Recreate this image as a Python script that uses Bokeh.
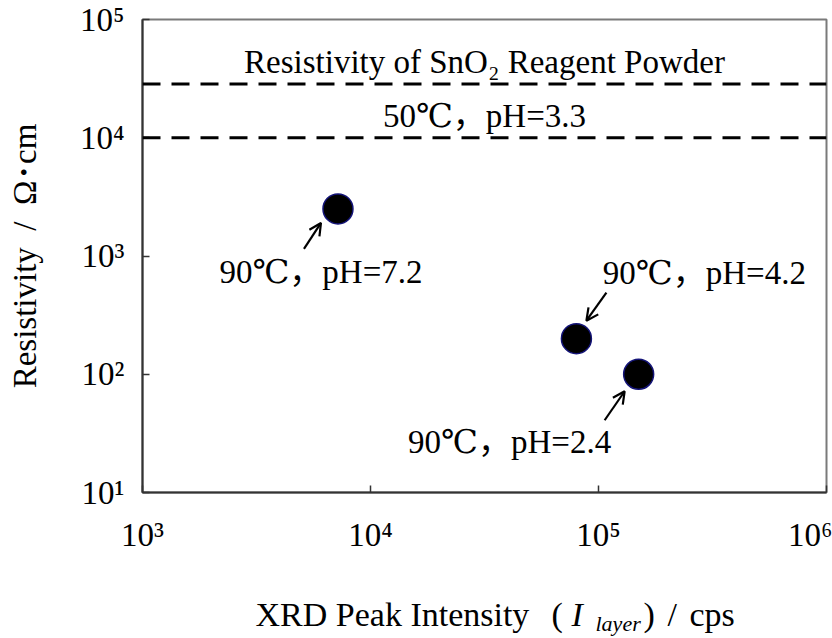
import math
from bokeh.plotting import figure
from bokeh.layouts import column
from bokeh.models import Range1d, FixedTicker, Span, Label, Arrow, OpenHead
from bokeh.embed import file_html
from bokeh.resources import INLINE

# ---------------- data ----------------
intensity = [7200, 80000, 150000]          # XRD peak intensity (cps)
resistivity = [2500, 200, 100]             # resistivity (ohm cm)
point_labels = ["90℃，pH=7.2", "90℃，pH=4.2", "90℃，pH=2.4"]
ref_levels = [28500, 10000]
ref_labels = ["Resistivity of SnO₂ Reagent Powder", "50℃，pH=3.3"]
x_ticks = [1e3, 1e4, 1e5, 1e6]
x_tick_labels = ["10³", "10⁴", "10⁵", "10⁶"]
y_ticks = [1e1, 1e2, 1e3, 1e4, 1e5]
y_tick_labels = ["10¹", "10²", "10³", "10⁴", "10⁵"]
x_lim = (1e3, 1e6)
y_lim = (1e1, 1e5)
y_title = "Resistivity\u2002/\u2002Ω･cm"
x_title_parts = ["XRD Peak Intensity", "(", "I", "layer", ")", "/", "cps"]

# ---------------- layout / style ----------------
W = 832
TITLE_H = 60
H = 638 - TITLE_H
LEFT, RIGHT, TOP, BOTTOM = 142, 6, 19, 86
FW, FH = W - LEFT - RIGHT, H - TOP - BOTTOM
FONT = "Liberation Serif, DejaVu Serif, Noto Sans CJK JP"
FS = "33px"

p = figure(width=W, height=H, x_axis_type="log", y_axis_type="log",
           x_range=Range1d(*x_lim), y_range=Range1d(*y_lim),
           output_backend="svg", toolbar_location=None,
           min_border_left=LEFT, min_border_right=RIGHT,
           min_border_top=TOP, min_border_bottom=BOTTOM)
p.background_fill_color = "white"
p.border_fill_color = "white"
p.grid.visible = False
p.outline_line_color = "#7a7a7a"
p.outline_line_width = 2

xdec = FW / (math.log10(x_lim[1]) - math.log10(x_lim[0]))
ydec = FH / (math.log10(y_lim[1]) - math.log10(y_lim[0]))


def shift(x, y, dx, dy):
    """move a data point by dx, dy pixels on the log-log frame"""
    return x * 10 ** (dx / xdec), y * 10 ** (dy / ydec)


for ax, ticks, labels, standoff in ((p.xaxis[0], x_ticks, x_tick_labels, 24),
                                     (p.yaxis[0], y_ticks, y_tick_labels, 18)):
    ax.ticker = FixedTicker(ticks=ticks, minor_ticks=[])
    ax.major_label_overrides = {t: l for t, l in zip(ticks, labels)}
    ax.major_label_text_font = FONT
    ax.major_label_text_font_size = FS
    ax.major_label_text_color = "black"
    ax.major_label_standoff = standoff
    ax.major_tick_in = 7
    ax.major_tick_out = 0
    ax.major_tick_line_color = "#333333"
    ax.major_tick_line_width = 1.5
    ax.minor_tick_line_color = None
    ax.axis_line_color = "#333333"
    ax.axis_line_width = 2

p.yaxis.axis_label = y_title
p.yaxis.axis_label_text_font = FONT
p.yaxis.axis_label_text_font_size = FS
p.yaxis.axis_label_text_font_style = "normal"
p.yaxis.axis_label_text_color = "black"
p.yaxis.axis_label_standoff = 34

# reference lines
for lvl, txt in zip(ref_levels, ref_labels):
    p.add_layout(Span(location=lvl, dimension="width", line_color="black",
                      line_width=3, line_dash="18 11"))
    p.add_layout(Label(x=FW / 2, x_units="screen", y=lvl, y_offset=22,
                       text=txt, text_align="center", text_baseline="middle",
                       text_font=FONT, text_font_size=FS, text_color="black"))

# points
p.scatter(intensity, resistivity, size=30, fill_color="black",
          line_color="#141478", line_width=1.5)

# point labels and arrows (offsets in pixels from each point)
label_offsets = [(-17, -63), (128, 66), (-129, -68)]
arrow_tail = [(-34, -40), (30, 46), (-34, -46)]
arrow_tip = [(-17, -14), (10, 18), (-14, -17)]
for xi, yi, txt, lo, at, ah in zip(intensity, resistivity, point_labels,
                                   label_offsets, arrow_tail, arrow_tip):
    p.add_layout(Label(x=xi, y=yi, x_offset=lo[0], y_offset=lo[1], text=txt,
                       text_align="center", text_baseline="middle",
                       text_font=FONT, text_font_size=FS, text_color="black"))
    xs, ys = shift(xi, yi, *at)
    xe, ye = shift(xi, yi, *ah)
    p.add_layout(Arrow(x_start=xs, y_start=ys, x_end=xe, y_end=ye,
                       line_color="black", line_width=2.2,
                       end=OpenHead(size=12, line_color="black", line_width=2.2)))

# x-axis title strip; its frame is aligned with the main frame (x = page pixel)
t = figure(width=W, height=TITLE_H, x_range=Range1d(LEFT, W - RIGHT),
           y_range=Range1d(0, TITLE_H),
           x_axis_type=None, y_axis_type=None, output_backend="svg",
           toolbar_location=None, min_border_left=LEFT, min_border_right=RIGHT,
           min_border_top=0, min_border_bottom=0)
t.outline_line_color = None
t.grid.visible = False
t.background_fill_color = "white"
t.border_fill_color = "white"
XFS = "34px"
part_x = [255, 551, 571, 595, 643, 667, 689]
part_y = [24, 24, 24, 15, 24, 24, 24]
part_style = ["normal", "normal", "italic", "italic", "normal", "normal", "normal"]
part_size = [XFS, XFS, XFS, "22px", XFS, XFS, XFS]
for txt, sx, sy, st, sz in zip(x_title_parts, part_x, part_y, part_style, part_size):
    t.add_layout(Label(x=sx, y=sy, text=txt, text_align="left", text_baseline="middle",
                       text_font=FONT, text_font_style=st, text_font_size=sz,
                       text_color="black"))

layout = column(p, t, spacing=0)
open("out.html", "w").write(file_html(layout, INLINE))
